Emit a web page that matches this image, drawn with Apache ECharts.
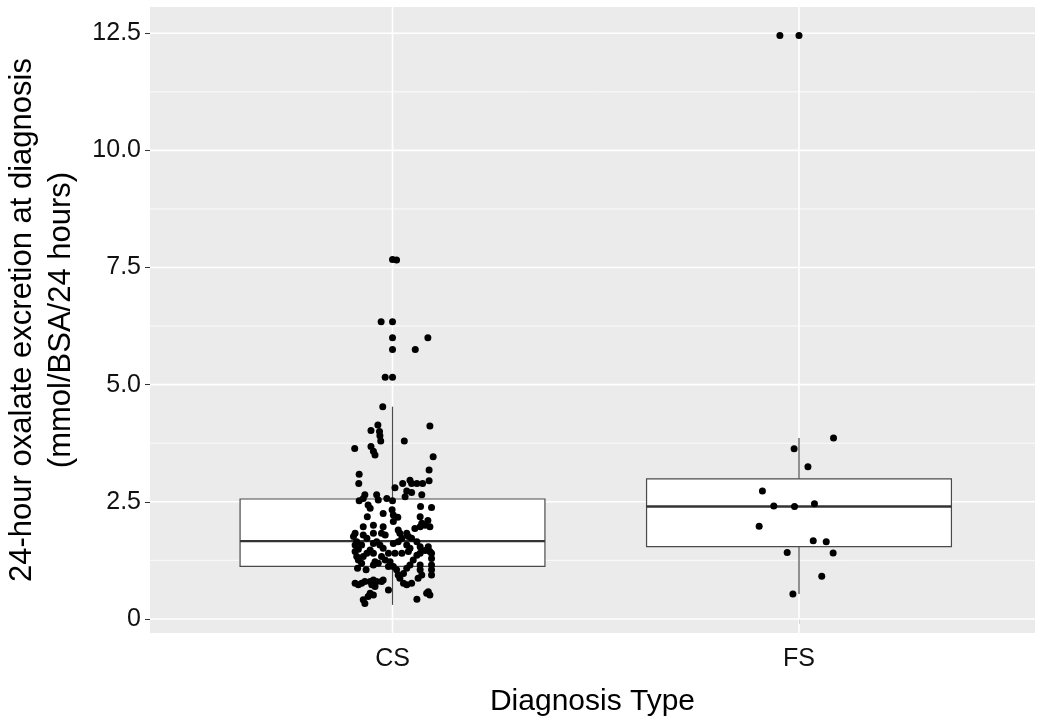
<!DOCTYPE html>
<html><head><meta charset="utf-8">
<script src="https://cdn.jsdelivr.net/npm/echarts@6/dist/echarts.min.js"></script>
<style>html,body{margin:0;padding:0;background:#fff}#main{width:1050px;height:725px}</style>
</head><body><div id="main"></div>
<script>
// ---- data ----
const categories = ['CS', 'FS'];
const yTicks = [0, 2.5, 5, 7.5, 10, 12.5];
const yMinorTicks = [1.25, 3.75, 6.25, 8.75, 11.25];
// [min, Q1, median, Q3, max] for each category
const boxStats = [
  [0.30, 1.12, 1.66, 2.56, 4.53],
  [0.53, 1.545, 2.40, 2.99, 3.86]
];
const csOutliers = [7.67, 6.34, 6.00, 5.75, 5.16];
const fsOutliers = [12.45];
// jittered observations: [horizontal jitter offset, value]
const csPoints = [
  [0.010,7.66],[-0.028,6.34],[0.087,6.00],[0.056,5.75],[-0.018,5.16],[-0.024,4.53],
  [0.092,4.12],[-0.036,4.14],[-0.053,4.02],[-0.032,4.00],[-0.031,3.91],[-0.029,3.80],
  [0.029,3.80],[-0.093,3.64],[-0.053,3.68],[-0.047,3.58],[-0.043,3.50],[0.100,3.46],
  [0.090,3.18],[-0.082,3.09],[-0.083,2.89],[0.090,2.95],[0.025,2.89],[0.043,2.96],
  [0.047,2.89],[0.060,2.89],[0.074,2.89],[0.006,2.80],[0.035,2.73],[0.047,2.70],
  [0.031,2.61],[0.072,2.65],[-0.068,2.65],[-0.072,2.57],[-0.082,2.52],[-0.039,2.65],
  [-0.035,2.54],[-0.014,2.57],[0.000,2.52],
  [-0.060,2.43],[-0.055,2.36],[0.069,2.40],[0.096,2.38],[-0.001,2.33],[-0.023,2.25],
  [0.002,2.22],[-0.062,2.18],[0.068,2.18],[0.013,2.17],[0.002,2.08],[-0.047,2.00],
  [-0.072,1.97],[-0.023,1.97],[0.087,2.10],[0.080,2.00],[0.092,1.97],[0.068,1.97],
  [0.055,1.93],[0.072,2.04],[-0.092,1.83],[-0.096,1.76],[-0.072,1.79],[-0.063,1.72],
  [-0.047,1.83],[-0.027,1.83],[-0.018,1.79],[0.014,1.90],[0.018,1.83],[0.035,1.83],
  [0.039,1.76],[0.047,1.72],[0.023,1.72],[-0.088,1.65],[-0.092,1.58],[-0.076,1.58],
  [-0.047,1.61],[-0.031,1.58],[-0.023,1.51],[0.002,1.61],[0.014,1.65],[0.035,1.58],
  [0.043,1.51],[0.039,1.44],[0.068,1.54],[0.088,1.54],[0.092,1.44],[-0.055,1.47],
  [-0.063,1.40],[-0.047,1.40],[-0.010,1.40],[0.006,1.40],[0.023,1.40],[-0.084,1.49],
  [-0.092,1.44],[0.080,1.46],[0.060,1.65],[-0.039,1.65],
  [-0.084,1.26],[-0.076,1.19],[-0.072,1.33],[-0.043,1.22],[-0.047,1.15],[-0.035,1.19],
  [-0.027,1.33],[-0.018,1.26],[-0.010,1.12],[0.002,1.12],[-0.006,1.22],[0.010,1.05],
  [0.014,0.94],[0.018,0.87],[0.027,0.97],[0.035,1.08],[0.043,1.15],[0.051,1.26],
  [0.060,1.36],[0.068,1.40],[0.068,1.15],[0.068,1.05],[0.072,0.94],[0.063,0.87],
  [0.096,1.40],[0.096,1.29],[0.096,1.15],[0.096,1.05],[0.096,0.94],[-0.086,1.08],
  [-0.065,1.05],[-0.088,1.33],[-0.092,0.76],[-0.084,0.73],[-0.076,0.76],[-0.068,0.80],
  [-0.055,0.80],[-0.047,0.83],[-0.039,0.80],[-0.027,0.80],[-0.023,0.83],[-0.051,0.73],
  [-0.043,0.69],[-0.010,0.62],[0.027,0.76],[0.035,0.73],[0.047,0.76],[0.088,0.58],
  [0.084,0.55],[0.092,0.51],[-0.055,0.55],[-0.047,0.51],[-0.060,0.48],[-0.072,0.41],
  [-0.068,0.33],[0.060,0.42]
];
const fsPoints = [
  [0.085,3.86],[-0.012,3.63],[0.022,3.25],[-0.090,2.73],[-0.062,2.41],[-0.011,2.40],
  [0.038,2.46],[-0.098,1.98],[0.035,1.67],[0.067,1.65],[-0.029,1.42],[0.084,1.41],
  [0.056,0.91],[-0.015,0.53],[-0.047,12.45]
];
// ---------------------------------------

const jitterData = csPoints.map(p => [1 + p[0], p[1]])
  .concat(fsPoints.map(p => [2 + p[0], p[1]]));
const outlierData = csOutliers.map(v => [1, v]).concat(fsOutliers.map(v => [2, v]));
const boxData = boxStats.map((s, i) => [i + 1].concat(s));

const FONT = 'Liberation Sans, Arial, sans-serif';

function hLine(width) {
  return function (params, api) {
    const cs = params.coordSys;
    const p = api.coord([1, api.value(1)]);
    return {type: 'line', shape: {x1: cs.x, y1: p[1], x2: cs.x + cs.width, y2: p[1]},
      style: {stroke: '#ffffff', lineWidth: width}};
  };
}

const chart = echarts.init(document.getElementById('main'), null, {renderer: 'canvas'});
chart.setOption({
  animation: false,
  backgroundColor: '#ffffff',
  grid: {left: 150, right: 15, top: 7, bottom: 92, show: true, backgroundColor: '#EBEBEB',
    borderWidth: 0, containLabel: false, outerBoundsMode: 'none'},
  xAxis: {
    type: 'value', min: 0.4034, max: 2.5806,
    axisLine: {show: false},
    axisTick: {show: true, customValues: [1, 2], length: 5, lineStyle: {color: '#333333', width: 1}},
    axisLabel: {customValues: [1, 2], formatter: v => categories[Math.round(v) - 1] || '',
      fontSize: 25, color: '#111111', fontFamily: FONT, margin: 14},
    splitLine: {show: false},
    name: 'Diagnosis Type', nameLocation: 'middle', nameGap: 54,
    nameTextStyle: {fontSize: 30, color: '#000', fontFamily: FONT}
  },
  yAxis: {
    type: 'value', min: -0.3, max: 13.06,
    axisLine: {show: false},
    axisTick: {show: true, customValues: yTicks, length: 5, lineStyle: {color: '#333333', width: 1}},
    axisLabel: {customValues: yTicks, formatter: v => (v === 0 ? '0' : v.toFixed(1)),
      fontSize: 25, color: '#111111', fontFamily: FONT, margin: 9},
    splitLine: {show: false},
    name: '24-hour oxalate excretion at diagnosis\n(mmol/BSA/24 hours)',
    nameLocation: 'middle', nameRotate: 90, nameGap: 62,
    nameTextStyle: {fontSize: 31, color: '#000', fontFamily: FONT, lineHeight: 39, align: 'center'}
  },
  series: [
    {type: 'custom', z: 1, silent: true, renderItem: hLine(0.8),
      data: yMinorTicks.map(v => [1, v]), encode: {x: 0, y: 1}},
    {type: 'custom', z: 1, silent: true, renderItem: hLine(1.6),
      data: yTicks.map(v => [1, v]), encode: {x: 0, y: 1}},
    {type: 'custom', z: 1, silent: true,
      renderItem: function (params, api) {
        const cs = params.coordSys;
        const p = api.coord([api.value(0), 0]);
        return {type: 'line', shape: {x1: p[0], y1: cs.y, x2: p[0], y2: cs.y + cs.height},
          style: {stroke: '#ffffff', lineWidth: 1.6}};
      },
      data: categories.map((c, i) => [i + 1, 0]), encode: {x: 0, y: 1}},
    {type: 'custom', z: 2, silent: true,
      renderItem: function (params, api) {
        const x = api.value(0);
        const lo = api.coord([x, api.value(1)]);
        const q1 = api.coord([x, api.value(2)]);
        const med = api.coord([x, api.value(3)]);
        const q3 = api.coord([x, api.value(4)]);
        const hi = api.coord([x, api.value(5)]);
        const w = api.size([0.75, 0])[0];
        const st = {stroke: '#4a4a4a', lineWidth: 1.2};
        return {type: 'group', children: [
          {type: 'line', shape: {x1: lo[0], y1: lo[1], x2: q1[0], y2: q1[1]}, style: st},
          {type: 'line', shape: {x1: q3[0], y1: q3[1], x2: hi[0], y2: hi[1]}, style: st},
          {type: 'rect', shape: {x: q3[0] - w / 2, y: q3[1], width: w, height: q1[1] - q3[1]},
            style: {fill: '#ffffff', stroke: '#4a4a4a', lineWidth: 1.2}},
          {type: 'line', shape: {x1: med[0] - w / 2, y1: med[1], x2: med[0] + w / 2, y2: med[1]},
            style: {stroke: '#333333', lineWidth: 2.4}}
        ]};
      },
      data: boxData, encode: {x: 0, y: [1, 2, 3, 4, 5]}},
    {type: 'scatter', z: 3, silent: true, symbol: 'circle', symbolSize: 7,
      itemStyle: {color: '#000000', opacity: 1}, data: outlierData},
    {type: 'scatter', z: 4, silent: true, symbol: 'circle', symbolSize: 7,
      itemStyle: {color: '#000000', opacity: 1}, data: jitterData}
  ]
});
</script>
</body></html>
